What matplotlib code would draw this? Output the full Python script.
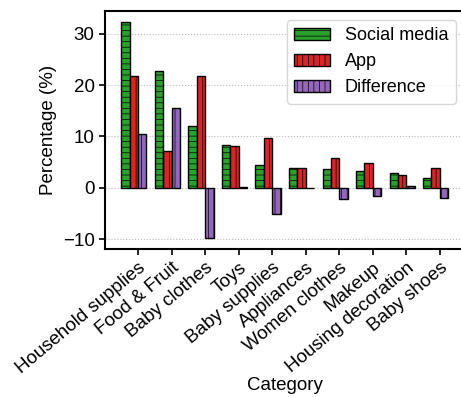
import matplotlib.pyplot as plt
import numpy as np

plt.rcParams['font.family'] = ['Liberation Sans', 'DejaVu Sans']
plt.rcParams['font.size'] = 13.5
plt.rcParams['hatch.linewidth'] = 0.5
plt.rcParams['hatch.color'] = '#333333'

categories = ['Household supplies', 'Food & Fruit', 'Baby clothes', 'Toys',
              'Baby supplies', 'Appliances', 'Women clothes', 'Makeup',
              'Housing decoration', 'Baby shoes']
social = [32.3, 22.7, 12.0, 8.35, 4.5, 3.8, 3.6, 3.3, 2.8, 1.9]
app = [21.8, 7.2, 21.8, 8.2, 9.6, 3.8, 5.8, 4.8, 2.45, 3.9]
diff = [10.5, 15.5, -9.8, 0.15, -5.1, 0.0, -2.2, -1.5, 0.35, -2.0]

x = np.arange(len(categories))
w = 0.25

fig = plt.figure(figsize=(4.61, 3.97), dpi=100)
ax = fig.add_axes([105/461, 1-249/397, (464.6-105)/461, (249-11)/397])

ax.bar(x - 1.5*w, social, w, color='#2ca02c', edgecolor='black', hatch='---', label='Social media', zorder=3)
ax.bar(x - 0.5*w, app, w, color='#d62728', edgecolor='black', hatch='|||', label='App', zorder=3)
ax.bar(x + 0.5*w, diff, w, color='#9467bd', edgecolor='black', hatch='|||', label='Difference', zorder=3)

ax.set_xticks(x)
ax.set_xticklabels(categories, rotation=40, ha='right', rotation_mode='anchor')
ax.set_xlabel('Category', labelpad=0)
ax.set_ylabel('Percentage (%)')
ax.set_yticks([-10, 0, 10, 20, 30])
ax.yaxis.grid(True, linestyle=':', color='#bbbbbb', linewidth=0.8, zorder=0)
ax.set_axisbelow(True)
for s in ax.spines.values():
    s.set_linewidth(1.5)
ax.tick_params(width=1.2, length=4)
ax.legend(loc='upper right', handlelength=2.0, fontsize=13)

fig.savefig('out.png', dpi=100)
